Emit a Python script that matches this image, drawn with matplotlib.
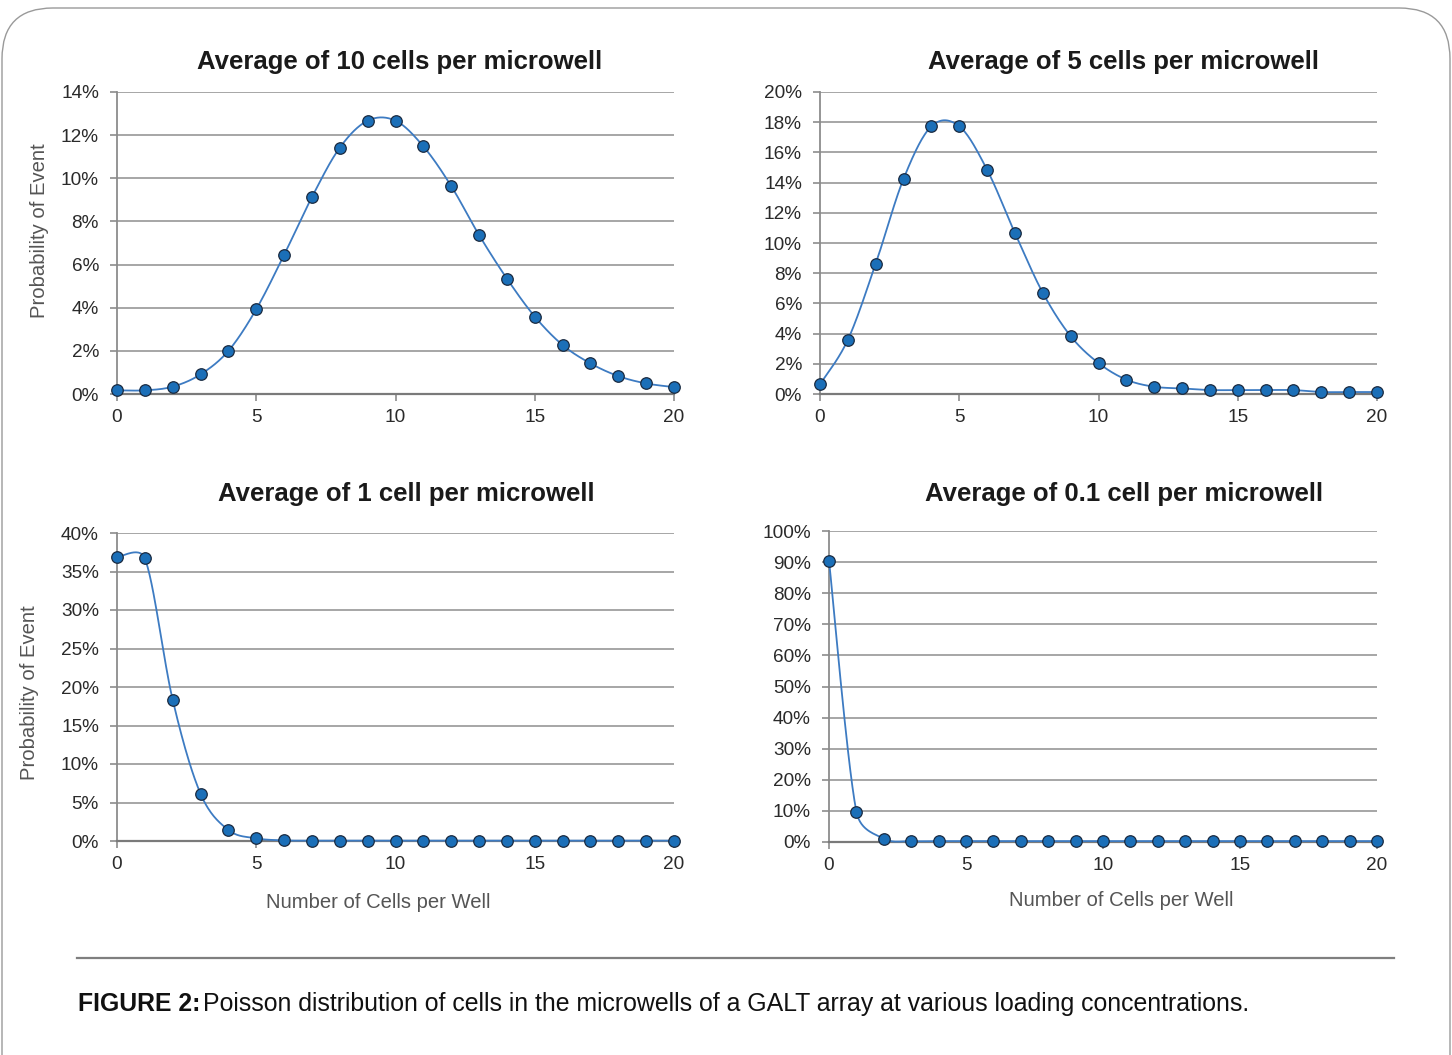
import numpy as np
import matplotlib
matplotlib.use("Agg")
import matplotlib.pyplot as plt
from matplotlib.patches import FancyBboxPatch
from matplotlib.lines import Line2D
from matplotlib.ticker import PercentFormatter, MultipleLocator

# values (probability of k cells per well)
cells = list(range(21))
avg_10 = [0.0017, 0.0017, 0.0034, 0.0091, 0.0200, 0.0393, 0.0645, 0.0913, 0.1142, 0.1267, 0.1267,
          0.1148, 0.0964, 0.0737, 0.0535, 0.0359, 0.0227, 0.0142, 0.0083, 0.0049, 0.0032]
avg_5 = [0.0064, 0.0359, 0.0863, 0.1425, 0.1773, 0.1773, 0.1485, 0.1066, 0.0670, 0.0383, 0.0205,
         0.0095, 0.0048, 0.0037, 0.0026, 0.0026, 0.0026, 0.0026, 0.0013, 0.0013, 0.0013]
avg_1 = [0.3688, 0.3670, 0.1833, 0.0614, 0.0143, 0.0035, 0.0008, 0.0005, 0.0005, 0.0005, 0.0005,
         0.0005, 0.0005, 0.0005, 0.0005, 0.0005, 0.0005, 0.0005, 0.0005, 0.0005, 0.0005]
avg_01 = [0.905, 0.0974, 0.0107, 0.003, 0.003, 0.003, 0.003, 0.003, 0.003, 0.003, 0.003,
          0.003, 0.003, 0.003, 0.003, 0.003, 0.003, 0.003, 0.003, 0.003, 0.003]

titles = ["Average of 10 cells per microwell", "Average of 5 cells per microwell",
          "Average of 1 cell per microwell", "Average of 0.1 cell per microwell"]
series = [avg_10, avg_5, avg_1, avg_01]
y_max = [0.14, 0.20, 0.40, 1.00]
y_step = [0.02, 0.02, 0.05, 0.10]

W, H = 1452, 1055
FONT = ["Liberation Sans", "DejaVu Sans"]
plt.rcParams["font.family"] = FONT

LINE_C = "#3d7bc2"
MARK_C = "#1b6fb8"
GRID_C = "#a6a6a6"
TEXT_C = "#2a2a2a"


def box(x0, y0, x1, y1):
    return [x0 / W, 1 - y1 / H, (x1 - x0) / W, (y1 - y0) / H]


def smooth(x, y, kx, ky, n=30):
    # excel-style smoothed line, worked out in pixel space:
    # bezier handles at 1/6 of neighbour span, capped at half the segment length
    p = np.column_stack([np.asarray(x) * kx, np.asarray(y) * ky]).astype(float)
    p = np.vstack([p[0], p, p[-1]])
    out = []
    t = np.linspace(0, 1, n)[:, None]
    for i in range(1, len(p) - 2):
        p0, p1, p2, p3 = p[i - 1], p[i], p[i + 1], p[i + 2]
        d12 = np.hypot(*(p2 - p1))
        d02 = np.hypot(*(p2 - p0))
        d13 = np.hypot(*(p3 - p1))
        f1 = 1 / 6
        if d02 * f1 > d12 / 2:
            f1 = d12 / (2 * d02)
        f2 = 1 / 6
        if d13 * f2 > d12 / 2:
            f2 = d12 / (2 * d13)
        c1 = p1 + (p2 - p0) * f1
        c2 = p2 - (p3 - p1) * f2
        seg = (1 - t) ** 3 * p1 + 3 * (1 - t) ** 2 * t * c1 + 3 * (1 - t) * t ** 2 * c2 + t ** 3 * p2
        out.append(seg if i == 1 else seg[1:])
    out = np.vstack(out)
    return out[:, 0] / kx, out[:, 1] / ky


fig = plt.figure(figsize=(W / 100, H / 100), dpi=100)

# rounded frame around the whole figure
frame = FancyBboxPatch((2 / W, -0.05), (W - 4) / W, 1 - 8 / H + 0.05,
                       boxstyle="round,pad=0,rounding_size=0.035", transform=fig.transFigure,
                       facecolor="none", edgecolor="#9a9a9a", linewidth=1.0,
                       mutation_aspect=W / H, zorder=-1)
fig.patches.append(frame)

# axes rectangles in pixels: (x at 0, top, x at 20, bottom)
rects = [(117, 92, 674, 394), (820, 92, 1377, 394),
         (117, 533, 674, 841), (829, 531, 1377, 842)]
title_pos = [(400, 62), (1124, 62), (406, 494), (1124, 494)]

for i in range(4):
    x0, y0, x1, y1 = rects[i]
    ax = fig.add_axes(box(*rects[i]))
    ax.set_facecolor("none")
    sx, sy = smooth(cells, series[i], (x1 - x0) / 20, (y1 - y0) / y_max[i])
    ax.plot(sx, sy, color=LINE_C, lw=1.3, zorder=3, clip_on=False)
    ax.plot(cells, series[i], ls="none", marker="o", ms=8.3, mfc=MARK_C, mec="#1a2a40",
            mew=0.9, zorder=4, clip_on=False)
    ax.set_xlim(0, 20)
    ax.set_ylim(0, y_max[i])
    ax.xaxis.set_major_locator(MultipleLocator(5))
    ax.yaxis.set_major_locator(MultipleLocator(y_step[i]))
    ax.yaxis.set_major_formatter(PercentFormatter(xmax=1, decimals=0))
    ax.grid(axis="y", color=GRID_C, lw=1.4)
    ax.set_axisbelow(True)
    for s in ["top", "right"]:
        ax.spines[s].set_visible(False)
    ax.spines["left"].set_color("#8c8c8c")
    ax.spines["bottom"].set_color("#7a7a7a")
    ax.spines["left"].set_linewidth(1.3)
    ax.spines["bottom"].set_linewidth(1.6)
    ax.tick_params(axis="both", colors="#8c8c8c", labelcolor=TEXT_C, labelsize=13.7,
                   length=5, width=1.2)
    ax.tick_params(axis="x", pad=6)
    ax.tick_params(axis="y", pad=8)
    fig.text(title_pos[i][0] / W, 1 - title_pos[i][1] / H, titles[i], ha="center", va="center",
             fontsize=18.5, fontweight="bold", color="#1a1a1a")

fig.text(40 / W, 1 - 231 / H, "Probability of Event", rotation=90, ha="center", va="center",
         fontsize=14.6, color="#555555")
fig.text(30 / W, 1 - 693 / H, "Probability of Event", rotation=90, ha="center", va="center",
         fontsize=14.6, color="#555555")
fig.text(378 / W, 1 - 902 / H, "Number of Cells per Well", ha="center", va="center",
         fontsize=14.6, color="#555555")
fig.text(1121 / W, 1 - 900 / H, "Number of Cells per Well", ha="center", va="center",
         fontsize=14.6, color="#555555")

fig.add_artist(Line2D([77 / W, 1394 / W], [1 - 958 / H, 1 - 958 / H], color="#7f7f7f", lw=1.6))

cap = fig.text(78 / W, 1 - 1004 / H, "FIGURE 2:", ha="left", va="center", fontsize=17.8,
               fontweight="bold", color="#111111")
fig.canvas.draw()
bb = cap.get_window_extent()
fig.text((bb.x1 + 3) / W, 1 - 1004 / H,
         "Poisson distribution of cells in the microwells of a GALT array at various loading concentrations.",
         ha="left", va="center", fontsize=17.9, color="#111111")

fig.savefig("out.png", dpi=100)
